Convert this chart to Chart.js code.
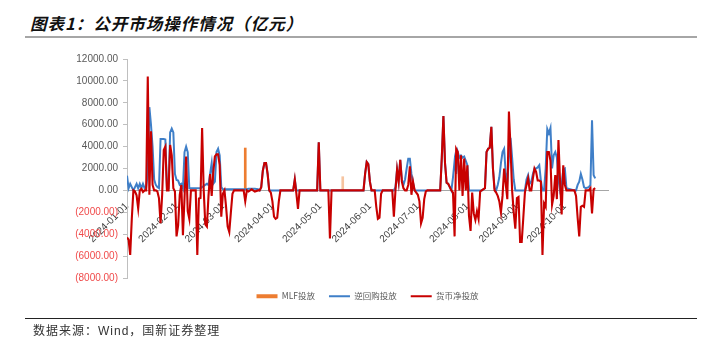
<!DOCTYPE html>
<html><head><meta charset="utf-8">
<script src="https://cdn.jsdelivr.net/npm/chart.js@4.4.1/dist/chart.umd.min.js"></script>
<style>
html,body{margin:0;padding:0;background:#fff;}
#wrap{position:relative;width:727px;height:352px;overflow:hidden;background:#fff;}
#c{position:absolute;left:0;top:0;}
#title{position:absolute;left:30px;top:11px;line-height:20px;font:italic bold 16.5px "Noto Sans CJK SC";letter-spacing:1px;color:#111;white-space:nowrap;}
#rule1{position:absolute;left:25px;top:36px;width:672px;height:2px;background:#a6a6a6;}
#rule2{position:absolute;left:25px;top:318px;width:672px;height:1px;background:#222;}
#src{position:absolute;left:33px;top:321px;line-height:16px;font:12px "Liberation Sans","Noto Sans CJK SC";letter-spacing:1px;color:#333;white-space:nowrap;}
</style></head>
<body><div id="wrap">
<div id="title">图表1：公开市场操作情况（亿元）</div>
<div id="rule1"></div>
<canvas id="c" width="727" height="352"></canvas>
<div id="rule2"></div>
<div id="src">数据来源：Wind，国新证券整理</div>
</div>
<script>
const dates = [
"2024-01-01","2024-01-02","2024-01-03","2024-01-04","2024-01-05","2024-01-06","2024-01-07","2024-01-08","2024-01-09","2024-01-10",
"2024-01-11","2024-01-12","2024-01-13","2024-01-14","2024-01-15","2024-01-16","2024-01-17","2024-01-18","2024-01-19","2024-01-20",
"2024-01-21","2024-01-22","2024-01-23","2024-01-24","2024-01-25","2024-01-26","2024-01-27","2024-01-28","2024-01-29","2024-01-30",
"2024-01-31","2024-02-01","2024-02-02","2024-02-03","2024-02-04","2024-02-05","2024-02-06","2024-02-07","2024-02-08","2024-02-09",
"2024-02-10","2024-02-13","2024-02-14","2024-02-15","2024-02-16","2024-02-17","2024-02-18","2024-02-19","2024-02-20","2024-02-21",
"2024-02-22","2024-02-23","2024-02-24","2024-02-25","2024-02-26","2024-02-27","2024-02-28","2024-02-29","2024-03-01","2024-03-02",
"2024-03-03","2024-03-04","2024-03-05","2024-03-06","2024-03-07","2024-03-08","2024-03-14","2024-03-15","2024-03-16","2024-03-17",
"2024-03-19","2024-03-21","2024-03-23","2024-03-24","2024-03-25","2024-03-26","2024-03-27","2024-03-28","2024-03-29","2024-03-30",
"2024-03-31","2024-04-01","2024-04-02","2024-04-03","2024-04-04","2024-04-05","2024-04-06","2024-04-14","2024-04-15","2024-04-16",
"2024-04-17","2024-04-18","2024-04-29","2024-04-30","2024-05-01","2024-05-06","2024-05-07","2024-05-08","2024-05-28","2024-05-29",
"2024-05-30","2024-05-31","2024-06-01","2024-06-02","2024-06-04","2024-06-05","2024-06-06","2024-06-07","2024-06-08","2024-06-09",
"2024-06-15","2024-06-16","2024-06-17","2024-06-18","2024-06-19","2024-06-20","2024-06-21","2024-06-22","2024-06-23","2024-06-24",
"2024-06-25","2024-06-26","2024-06-27","2024-06-28","2024-06-29","2024-07-01","2024-07-02","2024-07-03","2024-07-04","2024-07-05",
"2024-07-06","2024-07-07","2024-07-15","2024-07-16","2024-07-17","2024-07-18","2024-07-19","2024-07-20","2024-07-21","2024-07-22",
"2024-07-23","2024-07-24","2024-07-25","2024-07-26","2024-07-27","2024-07-28","2024-07-29","2024-07-30","2024-07-31","2024-08-01",
"2024-08-02","2024-08-03","2024-08-04","2024-08-05","2024-08-06","2024-08-07","2024-08-08","2024-08-09","2024-08-10","2024-08-12",
"2024-08-13","2024-08-14","2024-08-15","2024-08-16","2024-08-17","2024-08-18","2024-08-19","2024-08-20","2024-08-21","2024-08-22",
"2024-08-23","2024-08-24","2024-08-25","2024-08-26","2024-08-27","2024-08-28","2024-08-29","2024-08-30","2024-08-31","2024-09-01",
"2024-09-02","2024-09-03","2024-09-04","2024-09-05","2024-09-06","2024-09-07","2024-09-08","2024-09-09","2024-09-10","2024-09-11",
"2024-09-12","2024-09-13","2024-09-14","2024-09-15","2024-09-16","2024-09-17","2024-09-18","2024-09-19","2024-09-20","2024-09-21",
"2024-09-22","2024-09-23","2024-09-24","2024-09-25","2024-09-26","2024-09-27","2024-09-28","2024-09-29","2024-09-30","2024-10-01",
"2024-10-02","2024-10-07","2024-10-08","2024-10-09","2024-10-10","2024-10-11","2024-10-12","2024-10-13","2024-10-14","2024-10-16",
"2024-10-17","2024-10-18","2024-10-19","2024-10-20"
];
const reverseRepo = [
1340,200,600,300,0,300,600,200,600,200,
600,200,300,1500,7600,6000,4000,1000,500,300,
200,4700,4700,4700,4650,200,200,5300,5650,5300,
1500,950,900,500,600,200,3500,4000,3500,200,
200,200,200,200,200,300,400,500,600,500,
1500,2500,600,800,3500,3800,3200,300,100,100,
100,100,100,100,100,100,100,100,100,150,
150,150,100,0,300,1800,2500,2500,1500,0,
0,0,0,0,0,0,0,0,1000,0,
0,0,0,4400,0,0,0,0,0,1500,
2600,2400,800,0,0,0,0,0,0,0,
0,0,300,1900,800,2800,1000,500,1000,2000,
2900,2900,1500,700,0,0,0,0,0,0,
0,0,0,3000,6800,2500,700,600,300,0,
1200,2700,1500,3500,3000,3200,3000,3100,2700,2300,
0,0,0,0,0,0,0,0,0,200,
3500,3800,3900,5800,2000,200,0,500,1200,2500,
3500,3800,1500,800,3000,4800,3000,1000,0,0,
0,0,0,0,0,1000,1400,600,800,1500,
2000,2000,2100,2300,900,0,0,2000,5600,5200,
5700,2000,3200,3500,3000,1000,0,500,1900,2000,
200,0,0,500,800,1500,1000,300,200,300,
500,6400,1400,1100
];
const netInjection = [
-4300,-4500,-5900,-2600,0,-100,-450,-1650,0,150,
-150,0,0,10400,-400,5400,500,0,0,-100,
-700,-3000,-400,3700,4000,0,0,4150,3200,200,
-100,-4200,-3200,-400,500,-4100,-700,3100,-1900,-2600,
0,0,-5900,-750,-700,5700,0,-3100,-3300,-500,
1500,-500,1700,3100,3300,3300,2300,-2400,-300,0,
-1500,-3300,-3800,-2000,-300,0,0,-1000,0,-100,
100,-100,0,0,300,1800,2500,2500,1500,0,
-200,-1000,-2400,-2600,-2500,-1000,0,0,1000,-300,
-1700,0,0,4400,0,0,-4400,0,0,1500,
2600,2400,800,0,0,-1500,-2600,-2500,-300,0,
0,-2400,0,1900,800,2800,800,200,0,0,
500,2200,-400,800,0,-400,-1000,-3000,-2500,-800,
-100,0,0,3000,6800,2500,700,600,300,0,
-200,-4200,3800,3500,0,3200,-500,2900,0,2300,
-2300,-3700,-200,-2100,-2700,-1900,-2600,-100,0,200,
3500,3800,3900,5800,2000,0,-200,-500,-1000,-2000,
-500,2000,600,-800,7200,3900,0,-2000,-3500,-700,
-600,-4700,-4700,-2500,-200,500,1100,0,0,1100,
2000,1700,900,900,800,-5900,-1200,-1500,3500,3500,
2700,-1300,-500,1400,-800,4600,800,-2200,2300,500,
0,0,-500,-2500,-4200,-1500,-1400,-1500,0,0,
200,-2100,100,200
];
const mlfDates = ["2024-03-15","2024-05-15"];
const mlfValues = [3870, 1250];
const tickLabels = ["2024-01-01","2024-02-01","2024-03-01","2024-04-01","2024-05-01","2024-06-01","2024-07-01","2024-08-01","2024-09-01","2024-10-01"];
const seriesNames = ["MLF投放","逆回购投放","货币净投放"];
const seriesColors = ["#ED7D31","#3F7FC8","#C80000"];

const DAY0 = Date.UTC(2024,0,1);
function dayOf(s){const p=s.split('-').map(Number);return (Date.UTC(p[0],p[1]-1,p[2])-DAY0)/86400000;}
const xs = dates.map(dayOf);

new Chart(document.getElementById('c'), {
  type: 'line',
  data: { datasets: [
    {type:'bar', label: seriesNames[0], data: mlfDates.map((d,i)=>({x:dayOf(d), y:mlfValues[i]})),
     backgroundColor: ['#ED7D31','#F6C4A0'], barThickness: 2, order: 3},
    {type:'line', label: seriesNames[1], data: xs.map((x,i)=>({x:x, y:reverseRepo[i]})),
     borderColor: seriesColors[1], borderWidth: 2, pointRadius: 0, tension: 0, order: 2},
    {type:'line', label: seriesNames[2], data: xs.map((x,i)=>({x:x, y:netInjection[i]})),
     borderColor: seriesColors[2], borderWidth: 2.1, pointRadius: 0, tension: 0, order: 1}
  ]},
  options: {
    responsive: false, animation: false, devicePixelRatio: 1,
    layout: {padding: {left: 0, right: 119, top: 59, bottom: 41.5}},
    plugins: {
      tooltip: {enabled: false},
      legend: {
        position: 'bottom', fullSize: false,
        labels: {
          usePointStyle: true, pointStyleWidth: 21, padding: 14,
          font: {size: 8.5, family: '"Noto Sans CJK SC"'}, color: '#595959',
          generateLabels: chart => chart.data.datasets.map((ds, i) => ({
            text: ds.label, fillStyle: seriesColors[i], strokeStyle: seriesColors[i],
            lineWidth: i === 0 ? 4 : 2, pointStyle: 'line', hidden: false, datasetIndex: i, fontColor: '#595959'
          }))
        }
      }
    },
    scales: {
      x: {
        type: 'linear', min: 0, max: 301, offset: false, position: {y: 0},
        grid: {display: false, offset: false},
        border: {display: true, color: '#a6a6a6', width: 1},
        afterBuildTicks: s => { s.ticks = tickLabels.map(t => ({value: dayOf(t)})); },
        afterFit: s => { s.height = 0; },
        ticks: {autoSkip: false, minRotation: 45, maxRotation: 45, padding: 2,
          font: {size: 10, family: '"Liberation Sans"'}, color: '#404040',
          callback: (v, i) => tickLabels[i]}
      },
      y: {
        min: -8000, max: 12000,
        afterFit: s => { s.width = 127; },
        ticks: {stepSize: 2000, padding: 5, font: {size: 10, family: '"Liberation Sans"'},
          color: c => (c.tick && c.tick.value < 0) ? '#F04A4A' : '#595959',
          callback: v => v < 0 ? '(' + Math.abs(v).toFixed(2) + ')' : v.toFixed(2)},
        grid: {display: true, drawOnChartArea: false, drawTicks: true, tickLength: 4, color: '#bfbfbf'},
        border: {display: true, color: '#bfbfbf'}
      }
    }
  }
});
</script>
</body></html>
